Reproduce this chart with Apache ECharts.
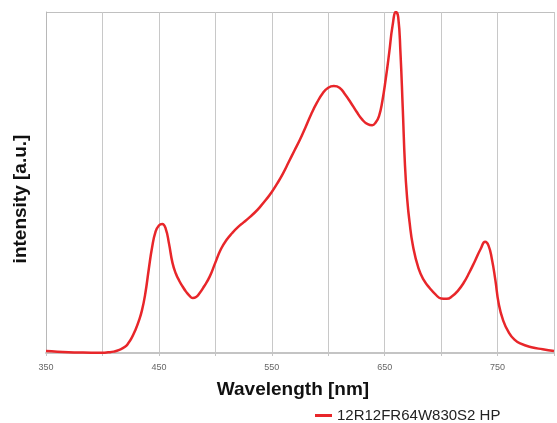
<!DOCTYPE html>
<html>
<head>
<meta charset="utf-8">
<script src="https://cdn.jsdelivr.net/npm/echarts@6/dist/echarts.min.js"></script>
<style>
html,body{margin:0;padding:0;background:#fff;}
#chart{width:557px;height:423px;}
</style>
</head>
<body>
<div id="chart"></div>
<script>
var seriesName = '12R12FR64W830S2 HP';
var wavelengths = [350,360,370,380,390,400,405,410,415,420,423,426,429,432,435,438,441,444,447,450,453,456,459,462,465,468,471,474,477,480,483,486,490,495,500,505,510,515,520,525,530,535,540,545,550,555,560,565,570,575,580,585,590,595,600,605,610,615,620,625,630,635,639,642,645,648,651,654,657,660,662,664,666,668,670,672,675,680,685,690,695,700,705,710,715,720,725,730,735,739,742,745,748,751,755,760,765,770,780,790,800];
var intensity =   [0.6,0.4,0.25,0.15,0.1,0.1,0.2,0.4,0.9,1.8,2.9,4.5,6.6,9.2,12.5,17.5,24.5,31,35.5,37.4,37.8,36.5,32,26.5,23.3,21.2,19.5,18,16.8,16.1,16.4,17.5,19.5,22.4,26.5,30.5,33.2,35.2,36.9,38.3,39.7,41.2,43,45,47.2,49.8,52.7,56,59.3,62.6,66.3,70.1,73.4,76.1,77.8,78.3,77.8,75.8,73.4,70.8,68.5,67.1,66.8,67.6,69.5,74,80.5,88,96,100,98.5,88,72,55,45,38.5,31.5,24.8,21.2,19,17.2,16,15.9,16.7,18.3,20.6,23.6,27,30.5,32.6,31.5,27.5,21.5,14.5,9.5,6,3.9,2.8,1.7,1.1,0.6];
var xTickLabels = [350,450,550,650,750];

var data = wavelengths.map(function(w,i){return [w,intensity[i]];});
var chart = echarts.init(document.getElementById('chart'));
chart.setOption({
  animation:false,
  grid:{left:46,right:0,top:12,bottom:70},
  legend:{
    data:[{name:seriesName,icon:'rect'}],
    left:315, top:408, padding:0,
    itemWidth:17, itemHeight:3, itemGap:5,
    textStyle:{fontFamily:'Liberation Sans',fontSize:15,color:'#222'}
  },
  graphic:[
    {type:'text',x:293,y:390,style:{text:'Wavelength [nm]',align:'center',verticalAlign:'middle',font:'bold 19px "Liberation Sans"',fill:'#111'}},
    {type:'text',rotation:Math.PI/2,x:21,y:199,style:{text:'intensity [a.u.]',align:'center',verticalAlign:'middle',font:'bold 19px "Liberation Sans"',fill:'#111'}}
  ],
  xAxis:{
    type:'value',min:350,max:800,interval:50,
    axisLine:{show:true,lineStyle:{color:'#c4c4c4',width:2}},
    axisTick:{show:true,length:3,lineStyle:{color:'#c4c4c4'}},
    axisLabel:{margin:10,fontSize:9,color:'#666',fontFamily:'Liberation Sans',
      formatter:function(v){return xTickLabels.indexOf(v)>=0?String(v):'';}},
    splitLine:{show:true,lineStyle:{color:'#c8c8c8',width:1}}
  },
  yAxis:{
    type:'value',min:0,max:100,interval:100,
    axisLine:{show:true,lineStyle:{color:'#b8b8b8',width:1}},
    axisTick:{show:false},axisLabel:{show:false},
    splitLine:{show:true,lineStyle:{color:'#c0c0c0',width:1}}
  },
  series:[{
    name:seriesName,type:'line',data:data,smooth:0.5,showSymbol:false,symbol:'none',
    lineStyle:{color:'#e8262a',width:2.5},itemStyle:{color:'#e8262a'}
  }]
});
</script>
</body>
</html>
